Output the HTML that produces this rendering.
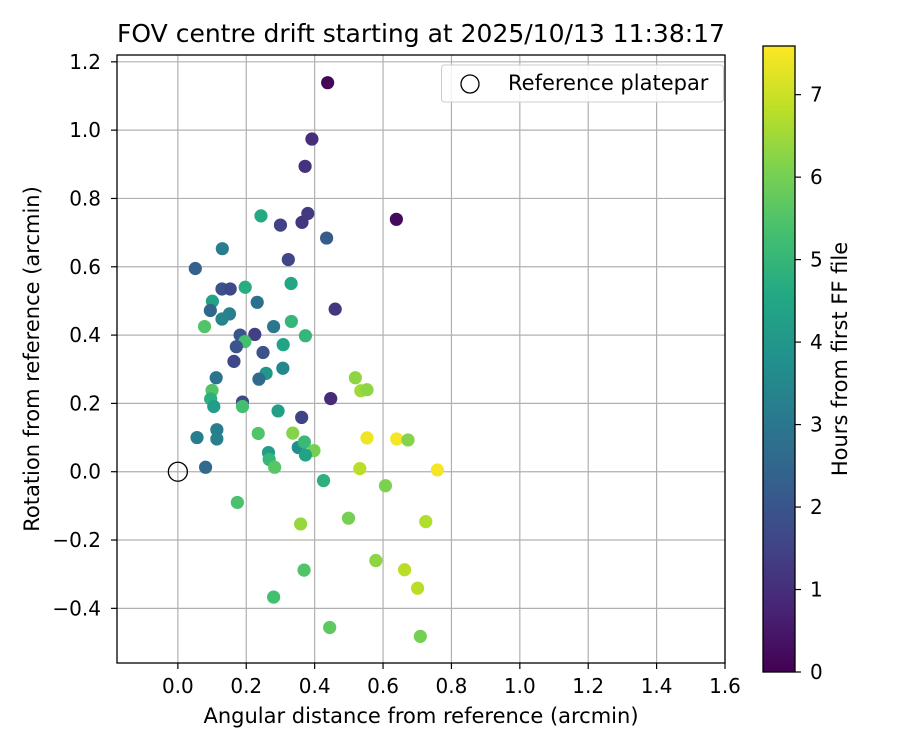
<!DOCTYPE html>
<html><head><meta charset="utf-8"><style>
body{margin:0;background:#fff}
svg{font-family:"DejaVu Sans","Liberation Sans",sans-serif}
</style></head><body>
<svg id="chart" width="900" height="750" xmlns="http://www.w3.org/2000/svg">
<defs>
<linearGradient id="vir" x1="0" y1="1" x2="0" y2="0">
<stop offset="0" stop-color="#440154"/><stop offset="0.1" stop-color="#482475"/><stop offset="0.2" stop-color="#414487"/><stop offset="0.3" stop-color="#355f8d"/><stop offset="0.4" stop-color="#2a788e"/><stop offset="0.5" stop-color="#21918c"/><stop offset="0.6" stop-color="#22a884"/><stop offset="0.7" stop-color="#44bf70"/><stop offset="0.8" stop-color="#7ad151"/><stop offset="0.9" stop-color="#bddf26"/><stop offset="1" stop-color="#fde725"/>
</linearGradient>
</defs>
<text x="421" y="42" font-size="25" text-anchor="middle">FOV centre drift starting at 2025/10/13 11:38:17</text>
<g id="grid"></g>
<g id="points"></g>
<rect x="117" y="55" width="608" height="608" fill="none" stroke="#000" stroke-width="1.3"/>
<g id="ticks"></g>
<text x="421" y="723" font-size="21" text-anchor="middle">Angular distance from reference (arcmin)</text>
<text transform="translate(39,359) rotate(-90)" font-size="21" text-anchor="middle">Rotation from reference (arcmin)</text>
<g>
<rect x="441.5" y="65" width="282" height="37" rx="3" fill="#fff" fill-opacity="0.85" stroke="#ccc"/>
<circle cx="470" cy="84" r="9" fill="none" stroke="#000" stroke-width="1.3"/>
<text x="508" y="90" font-size="21">Reference platepar</text>
</g>
<rect x="763" y="46" width="32" height="626" fill="url(#vir)" stroke="#000" stroke-width="1.3"/>
<g id="cbticks"></g>
<text transform="translate(847,359) rotate(-90)" font-size="21" text-anchor="middle">Hours from first FF file</text>
</svg>
<script>
const xs=[0.438,0.392,0.372,0.380,0.363,0.639,0.243,0.300,0.435,0.323,0.130,0.051,0.129,0.153,0.197,0.331,0.232,0.101,0.095,0.151,0.129,0.460,0.078,0.280,0.332,0.373,0.182,0.225,0.196,0.171,0.308,0.249,0.164,0.307,0.258,0.237,0.112,
0.519,0.535,0.553,0.447,0.362,0.293,0.189,0.189,0.100,0.096,0.105,0.056,0.114,0.114,0.235,0.336,0.553,0.640,0.673,0.352,0.370,0.398,0.373,0.265,0.267,0.283,0.081,0.532,0.759,0.426,0.607,0.174,0.499,0.359,0.725,0.579,0.663,0.369,0.701,0.280,0.444,0.709];
const ys=[1.139,0.974,0.894,0.756,0.730,0.739,0.749,0.722,0.684,0.621,0.653,0.595,0.535,0.535,0.540,0.551,0.496,0.499,0.472,0.462,0.447,0.476,0.425,0.425,0.440,0.398,0.400,0.402,0.381,0.366,0.372,0.349,0.323,0.303,0.288,0.271,0.275,
0.275,0.237,0.240,0.214,0.159,0.178,0.204,0.191,0.238,0.213,0.191,0.100,0.123,0.096,0.112,0.113,0.099,0.096,0.093,0.071,0.087,0.062,0.049,0.056,0.036,0.013,0.013,0.009,0.005,-0.026,-0.041,-0.090,-0.136,-0.153,-0.146,-0.260,-0.287,-0.288,-0.341,-0.367,-0.456,-0.482];
const hours=[0.1,1.0,1.1,1.3,1.2,0.2,4.6,1.5,2.2,1.6,3.2,2.4,1.9,1.7,4.7,4.5,2.8,4.4,2.5,3.3,3.4,1.2,5.5,3.0,5.0,5.0,2.0,1.4,5.3,2.0,4.4,1.9,1.6,3.5,4.0,2.6,2.9,
6.3,6.5,6.3,0.9,1.5,4.3,1.7,5.3,5.5,4.8,4.2,3.2,3.2,3.3,5.5,6.2,7.4,7.5,6.2,3.7,5.1,6.0,4.4,4.2,5.0,5.6,2.6,6.8,7.5,4.8,6.1,5.4,6.0,6.4,6.7,6.3,6.8,5.5,6.8,5.3,5.7,6.0];
const xTicks=[0.0,0.2,0.4,0.6,0.8,1.0,1.2,1.4,1.6];
const yTicks=[-0.4,-0.2,0.0,0.2,0.4,0.6,0.8,1.0,1.2];
const cbTicks=[0,1,2,3,4,5,6,7];
const X0=117,X1=725,Y0=55,Y1=663,xmin=-0.178,xmax=1.6,ymin=-0.560,ymax=1.220,hmax=7.59;
const sx=v=>X0+(v-xmin)/(xmax-xmin)*(X1-X0);
const sy=v=>Y1-(v-ymin)/(ymax-ymin)*(Y1-Y0);
const sc=h=>672-h/hmax*626;
const NS='http://www.w3.org/2000/svg';
const V=['#440154','#482475','#414487','#355f8d','#2a788e','#21918c','#22a884','#44bf70','#7ad151','#bddf26','#fde725'].map(c=>[1,3,5].map(i=>parseInt(c.substr(i,2),16)));
function vir(t){t=Math.max(0,Math.min(1,t))*10;const i=Math.min(9,Math.floor(t)),f=t-i;const c=V[i].map((a,k)=>Math.round(a+(V[i+1][k]-a)*f));return `rgb(${c})`;}
function mk(tag,at,parent){const e=document.createElementNS(NS,tag);for(const k in at)e.setAttribute(k,at[k]);document.getElementById(parent).appendChild(e);return e;}
const fmt=v=>(v<0?'\u2212':'')+Math.abs(v).toFixed(1);
xTicks.forEach(v=>{const x=sx(v);
 const g=mk('line',{x1:x,x2:x,y1:Y0,y2:Y1,stroke:'#b0b0b0','stroke-width':1.2},'grid');
 
 
 mk('line',{x1:x,x2:x,y1:Y1,y2:Y1+6,stroke:'#000','stroke-width':1.2},'ticks');
 const t=mk('text',{x:x,y:Y1+30,'font-size':20,'text-anchor':'middle'},'ticks');t.textContent=fmt(v);
 
 });
yTicks.forEach(v=>{const y=sy(v);
 const g=mk('line',{x1:X0,x2:X1,y1:y,y2:y,stroke:'#b0b0b0','stroke-width':1.2},'grid');
 
 
 mk('line',{x1:X0-6,x2:X0,y1:y,y2:y,stroke:'#000','stroke-width':1.2},'ticks');
 const t=mk('text',{x:X0-16,y:y+7,'font-size':20,'text-anchor':'end'},'ticks');t.textContent=fmt(v);
 
 });
cbTicks.forEach(v=>{const y=sc(v);
 mk('line',{x1:795,x2:801,y1:y,y2:y,stroke:'#000','stroke-width':1.2},'cbticks');
 const t=mk('text',{x:810,y:y+7,'font-size':20},'cbticks');t.textContent=v;
 
 });
xs.forEach((x,i)=>{const c=mk('circle',{cx:sx(x),cy:sy(ys[i]),r:6.6,fill:vir(hours[i]/hmax)},'points');
 
 });
const r=mk('circle',{cx:sx(0),cy:sy(0),r:9.5,fill:'none',stroke:'#000','stroke-width':1.3},'points');


</script>
</body></html>
